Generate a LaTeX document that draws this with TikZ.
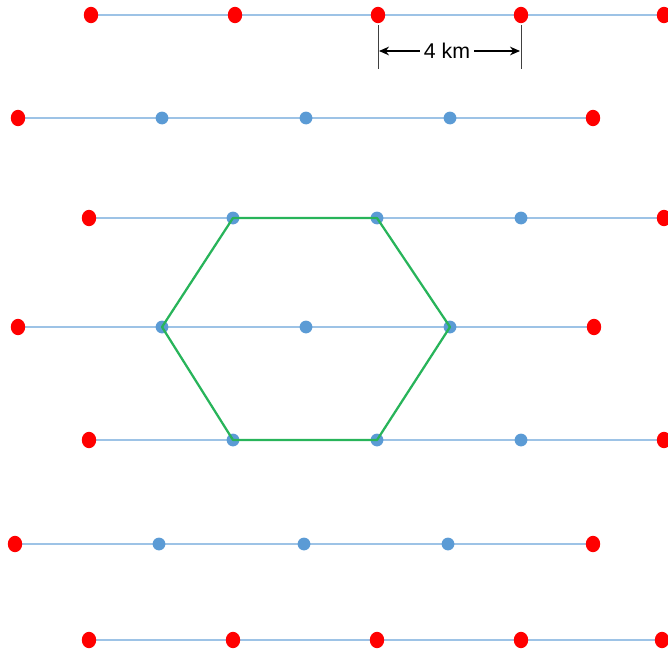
\documentclass[tikz,border=0pt]{standalone}
\usepackage{fontspec}
\setmainfont{Liberation Sans}
\usetikzlibrary{shapes.geometric,arrows.meta,backgrounds}
\definecolor{gridblue}{RGB}{157,195,230}
\definecolor{dotblue}{RGB}{91,155,213}
\definecolor{dotred}{RGB}{255,0,0}
\definecolor{hexgreen}{RGB}{40,180,90}
\tikzset{
  reddot/.style={ellipse,fill=dotred,inner sep=0pt,minimum width=10.8pt,minimum height=12.3pt},
  bluedot/.style={circle,fill=dotblue,inner sep=0pt,minimum size=9.6pt},
  rowline/.style={draw=gridblue,line width=1.8pt},
  hexline/.style={draw=hexgreen,line width=1.7pt,line join=round},
  dimline/.style={draw=black!75,line width=0.7pt},
  dimarrow/.style={draw=black,line width=0.9pt,-{Stealth[length=7.5pt,width=6.5pt]}},
  dimlabel/.style={font=\fontsize{16}{19}\selectfont,inner sep=1pt},
}
\begin{document}
\begin{tikzpicture}[x=0.75pt,y=-0.75pt]
\useasboundingbox (0,0) rectangle (668,653);
% row 1
\node[reddot] (r1a) at (91,15) {};
\node[reddot] (r1b) at (235,15) {};
\node[reddot] (r1c) at (378,15) {};
\node[reddot] (r1d) at (521,15) {};
\node[reddot] (r1e) at (664,15) {};
\coordinate (r1end) at (668,15);
% row 2
\node[reddot] (r2a) at (18,118) {};
\node[bluedot] (r2b) at (162,118) {};
\node[bluedot] (r2c) at (306,118) {};
\node[bluedot] (r2d) at (450,118) {};
\node[reddot] (r2e) at (593,118) {};
% row 3
\node[reddot] (r3a) at (89,218) {};
\node[bluedot] (r3b) at (233,218) {};
\node[bluedot] (r3c) at (377,218) {};
\node[bluedot] (r3d) at (521,218) {};
\node[reddot] (r3e) at (664,218) {};
% row 4
\node[reddot] (r4a) at (18,327) {};
\node[bluedot] (r4b) at (162,327) {};
\node[bluedot] (r4c) at (306,327) {};
\node[bluedot] (r4d) at (450,327) {};
\node[reddot] (r4e) at (594,327) {};
% row 5
\node[reddot] (r5a) at (89,440) {};
\node[bluedot] (r5b) at (233,440) {};
\node[bluedot] (r5c) at (377,440) {};
\node[bluedot] (r5d) at (521,440) {};
\node[reddot] (r5e) at (664,440) {};
% row 6
\node[reddot] (r6a) at (15,544) {};
\node[bluedot] (r6b) at (159,544) {};
\node[bluedot] (r6c) at (304,544) {};
\node[bluedot] (r6d) at (448,544) {};
\node[reddot] (r6e) at (593,544) {};
% row 7
\node[reddot] (r7a) at (89,640) {};
\node[reddot] (r7b) at (233,640) {};
\node[reddot] (r7c) at (377,640) {};
\node[reddot] (r7d) at (521,640) {};
\node[reddot] (r7e) at (662,640) {};
% row lines behind the dots
\begin{pgfonlayer}{background}
  \draw[rowline] (r1a.center) -- (r1end);
  \draw[rowline] (r2a.center) -- (r2e.center);
  \draw[rowline] (r3a.center) -- (r3e.center);
  \draw[rowline] (r4a.center) -- (r4e.center);
  \draw[rowline] (r5a.center) -- (r5e.center);
  \draw[rowline] (r6a.center) -- (r6e.center);
  \draw[rowline] (r7a.center) -- (r7e.center);
\end{pgfonlayer}
% hexagon
\draw[hexline] (r3b.center) -- (r3c.center) -- (r4d.center) -- (r5c.center)
  -- (r5b.center) -- (r4b.center) -- cycle;
% dimension
\coordinate (dl1) at (378,25);
\coordinate (dl2) at (378,69);
\coordinate (dr1) at (521,25);
\coordinate (dr2) at (521,69);
\draw[dimline] (dl1) -- (dl2);
\draw[dimline] (dr1) -- (dr2);
\node[dimlabel] (dim) at (447,51) {4 km};
\coordinate (ldim) at (379,51);
\coordinate (rdim) at (520,51);
\draw[dimarrow] ([xshift=-2pt]dim.west) -- (ldim);
\draw[dimarrow] ([xshift=2pt]dim.east) -- (rdim);
\end{tikzpicture}
\end{document}
